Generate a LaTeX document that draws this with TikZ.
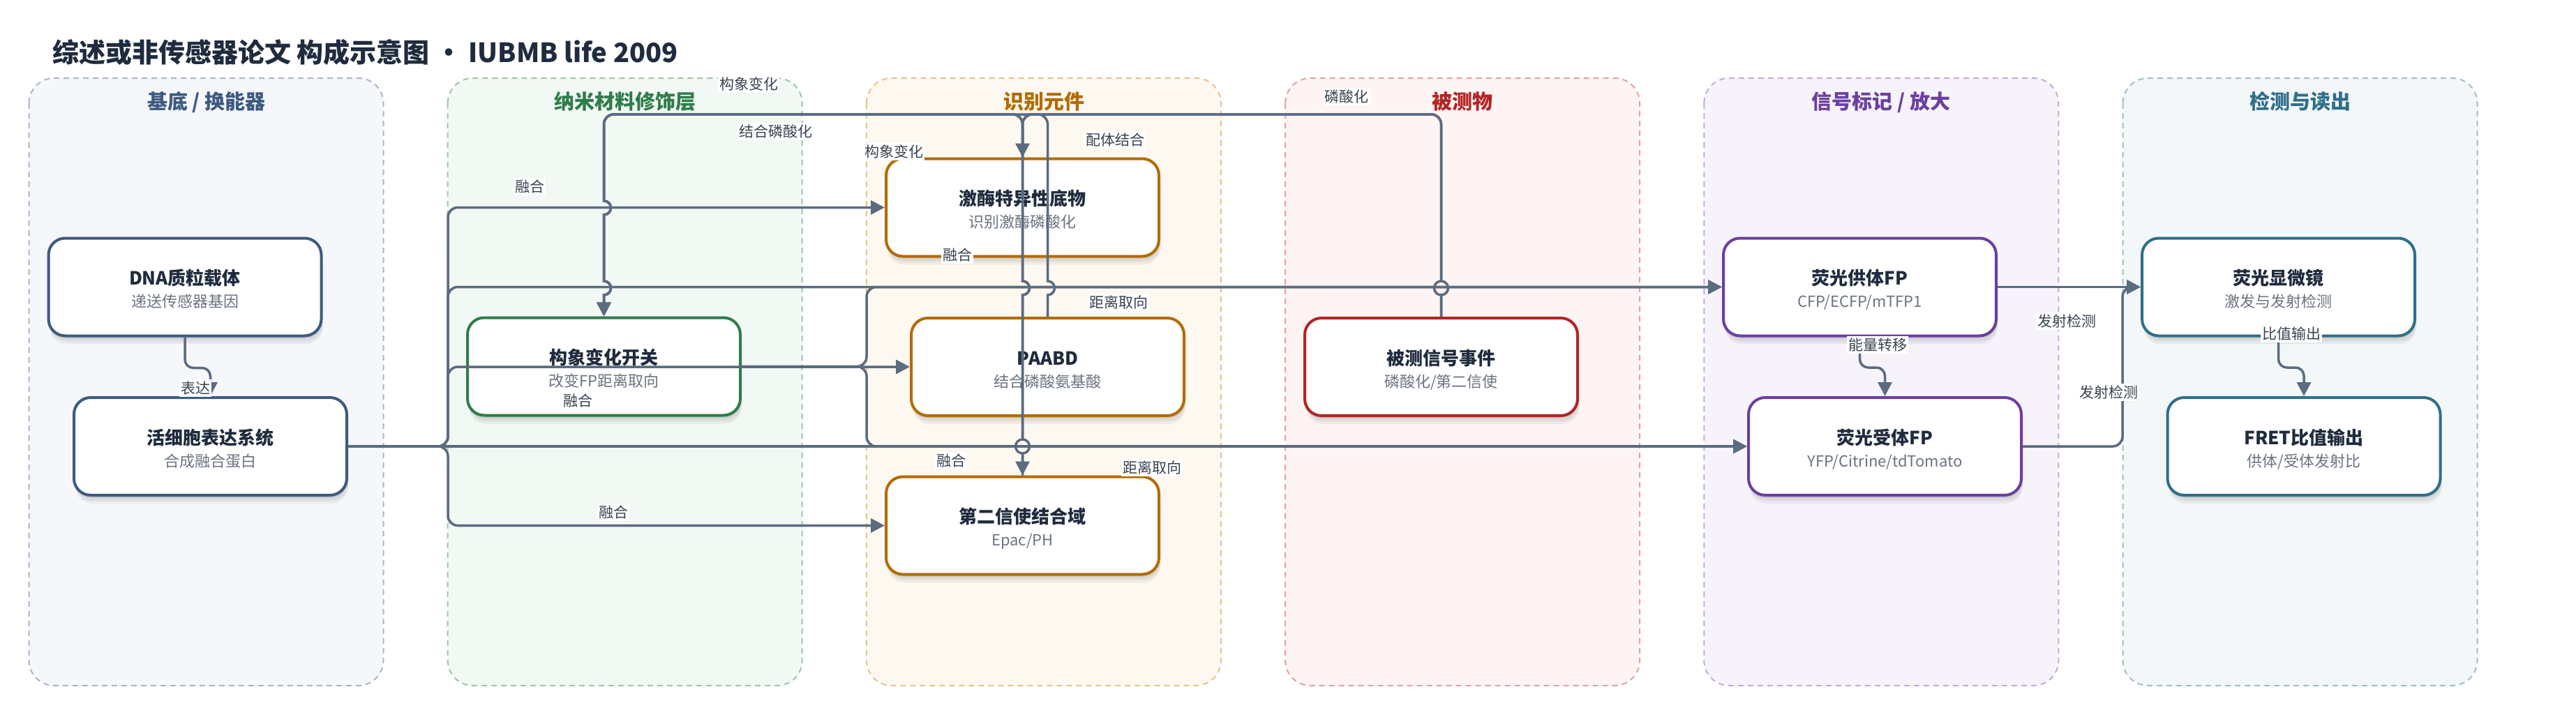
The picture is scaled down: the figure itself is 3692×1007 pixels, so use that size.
\documentclass[tikz,border=0pt]{standalone}
\usepackage{fontspec}
\setmainfont{Noto Sans CJK SC}
\usetikzlibrary{arrows.meta,calc,shadows}
\definecolor{titlec}{HTML}{1F2B3E}
\definecolor{subc}{HTML}{6B7380}
\definecolor{lblc}{HTML}{3A4350}
\definecolor{edgec}{HTML}{5B6B80}
\definecolor{cA}{HTML}{3E5A80}\definecolor{bA}{HTML}{A9B6C9}\definecolor{fA}{HTML}{F5F7FB}
\definecolor{cB}{HTML}{2E7D4B}\definecolor{bB}{HTML}{9CC8A8}\definecolor{fB}{HTML}{F2F8F3}
\definecolor{cC}{HTML}{B36B00}\definecolor{bC}{HTML}{E5C38E}\definecolor{fC}{HTML}{FDF8F0}
\definecolor{cD}{HTML}{B32424}\definecolor{bD}{HTML}{E3A2A2}\definecolor{fD}{HTML}{FDF4F3}
\definecolor{cE}{HTML}{6B3FA0}\definecolor{bE}{HTML}{C5AADC}\definecolor{fE}{HTML}{F7F3FB}
\definecolor{cF}{HTML}{2F6F8A}\definecolor{bF}{HTML}{9DBFCB}\definecolor{fF}{HTML}{F3F7F8}
\begin{document}
\begin{tikzpicture}[x=1pt,y=-1pt,
  lane/.style 2 args={draw=#1, fill=#2, line width=2pt, dash pattern=on 8pt off 6pt, rounded corners=36pt},
  lanettl/.style={font=\fontsize{29}{34}\selectfont\bfseries, inner sep=0pt, text height=25.5pt, text depth=3.5pt},
  box/.style={draw=#1, line width=4pt, rounded corners=24pt, fill=white, minimum width=391pt, minimum height=140pt, inner sep=0pt,
    drop shadow={shadow xshift=2pt, shadow yshift=-12pt, opacity=0.05, fill=black},
    drop shadow={shadow xshift=2pt, shadow yshift=-8pt, opacity=0.06, fill=black},
    drop shadow={shadow xshift=1pt, shadow yshift=-4pt, opacity=0.07, fill=black}},
  ttl/.style={font=\fontsize{26}{30}\selectfont\bfseries, text=titlec, inner sep=0pt, text height=22.9pt, text depth=3.1pt},
  sub/.style={font=\fontsize{22}{26}\selectfont, text=subc, inner sep=0pt, text height=19.4pt, text depth=2.6pt},
  lbl/.style={font=\fontsize{21}{25}\selectfont, text=lblc, fill=white, inner sep=2pt, text height=18.5pt, text depth=2.5pt},
  edge/.style={draw=edgec, line width=3.5pt, -{Triangle[length=20pt,width=20pt]}},
  plain/.style={draw=edgec, line width=3.5pt}
]
\fill[white] (0,0) rectangle (3692,1007);
\useasboundingbox (0,0) rectangle (3692,1007);

% lanes
\draw[lane={bA}{fA}] (41.5,112) rectangle (549.5,983);
\draw[lane={bB}{fB}] (641.7,112) rectangle (1149.7,983);
\draw[lane={bC}{fC}] (1241.9,112) rectangle (1749.9,983);
\draw[lane={bD}{fD}] (1842.1,112) rectangle (2350.1,983);
\draw[lane={bE}{fE}] (2442.3,112) rectangle (2950.3,983);
\draw[lane={bF}{fF}] (3042.5,112) rectangle (3550.5,983);

\node[lanettl,text=cA] (l1) at (296,145) {基底 / 换能器};
\node[lanettl,text=cB] (l2) at (896,145) {纳米材料修饰层};
\node[lanettl,text=cC] (l3) at (1496,145) {识别元件};
\node[lanettl,text=cD] (l4) at (2096,145) {被测物};
\node[lanettl,text=cE] (l5) at (2696,145) {信号标记 / 放大};
\node[lanettl,text=cF] (l6) at (3297,145) {检测与读出};

% title
\node[anchor=base west, inner sep=0pt, font=\fontsize{38}{44}\selectfont\bfseries, text=titlec] (title) at (75,89)
  {综述或非传感器论文 构成示意图 • IUBMB life 2009};

% nodes
\node[box=cA] (dna) at (265,411.5) {};
\node[box=cA] (live) at (301.5,640) {};
\node[box=cB] (sw) at (865.5,525.5) {};
\node[box=cC] (kin) at (1465.5,297.5) {};
\node[box=cC] (paabd) at (1501.5,526) {};
\node[box=cC] (sec) at (1465.5,753.5) {};
\node[box=cD] (obs) at (2065.5,526) {};
\node[box=cE] (donor) at (2665.5,411.5) {};
\node[box=cE] (acc) at (2701.5,640) {};
\node[box=cF] (mic) at (3265.5,411.5) {};
\node[box=cF] (fret) at (3302,640) {};

\foreach \n/\t/\s in {dna/DNA质粒载体/递送传感器基因, live/活细胞表达系统/合成融合蛋白,
  sw/构象变化开关/改变FP距离取向, kin/激酶特异性底物/识别激酶磷酸化, paabd/PAABD/结合磷酸氨基酸,
  sec/第二信使结合域/Epac\slash PH, obs/被测信号事件/磷酸化\slash 第二信使, donor/荧光供体FP/CFP\slash ECFP\slash mTFP1,
  acc/荧光受体FP/YFP\slash Citrine\slash tdTomato, mic/荧光显微镜/激发与发射检测, fret/FRET比值输出/供体\slash 受体发射比}{
  \node[ttl] (\n-t) at ($(\n.center)+(0,-12.5)$) {\t};
  \node[sub] (\n-s) at ($(\n.center)+(0,21)$) {\s};
}

% ---- edges ----
\draw[edge,rounded corners=12pt] (dna.south) -- ++(0,44) -| (live.north);

\draw[edge,rounded corners=14pt] (live.east) -- (642,640) |- (kin.west);
\draw[edge,rounded corners=14pt] (live.east) -- (642,640) |- (paabd.west);
\draw[edge,rounded corners=14pt] (live.east) -- (642,640) |- (sec.west);
\draw[edge,rounded corners=14pt] (live.east) -- (642,640) |- (donor.west);
\draw[edge] (live.east) -- (acc.west);

\draw[edge,rounded corners=14pt] (sw.east) -- (1242,525.5) |- (donor.west);
\draw[edge,rounded corners=14pt] (sw.east) -- (1242,525.5) |- (acc.west);

% top connectors with jumps
\draw[edge] (obs.north) -- (2065.5,423) arc[start angle=-90,end angle=90,radius=10pt] -- (2065.5,200)
  [rounded corners=14pt] -- (2065.5,164) -- (1465.5,164) -- (kin.north);
\draw[edge] (obs.north) -- (2065.5,423) arc[start angle=270,end angle=90,radius=10pt] -- (2065.5,200)
  [rounded corners=14pt] -- (2065.5,164) -- (1465.5,164) -- (1465.5,200)
  [sharp corners] -- (1465.5,403) arc[start angle=90,end angle=-90,radius=10pt]
  -- (1465.5,630) arc[start angle=90,end angle=-90,radius=10pt] -- (sec.north);
\draw[edge] (paabd.north) -- (1501.5,423) arc[start angle=-90,end angle=90,radius=10pt] -- (1501.5,200)
  [rounded corners=14pt] -- (1501.5,164) -- (865.5,164) -- (865.5,200)
  [sharp corners] -- (865.5,288) arc[start angle=90,end angle=-90,radius=10pt]
  -- (865.5,403) arc[start angle=90,end angle=-90,radius=10pt] -- (sw.north);
\draw[edge,rounded corners=14pt] (kin.north) -- (1465.5,164) -- (865.5,164) -- (865.5,200)
  [sharp corners] -- (865.5,288) arc[start angle=90,end angle=-90,radius=10pt]
  -- (865.5,403) arc[start angle=90,end angle=-90,radius=10pt] -- (sw.north);
\draw[edge] (sec.north) -- (1465.5,650) arc[start angle=270,end angle=90,radius=10pt]
  -- (1465.5,423) arc[start angle=-90,end angle=90,radius=10pt] -- (1465.5,200)
  [rounded corners=14pt] -- (1465.5,164) -- (865.5,164) -- (865.5,200)
  [sharp corners] -- (865.5,288) arc[start angle=90,end angle=-90,radius=10pt]
  -- (865.5,403) arc[start angle=90,end angle=-90,radius=10pt] -- (sw.north);

% right side
\draw[edge] (donor.east) -- (mic.west);
\draw[edge,rounded corners=14pt] (acc.east) -- (3042,640) |- (mic.west);
\draw[edge,rounded corners=12pt] (donor.south) -- ++(0,43.5) -| (acc.north);
\draw[edge,rounded corners=12pt] (mic.south) -- ++(0,43.5) -| (fret.north);

% labels
\node[lbl] (x1) at (280,556) {表达};
\node[lbl] (x2) at (759,267) {融合};
\node[lbl] (x3) at (828,574) {融合};
\node[lbl] (x4) at (879,734) {融合};
\node[lbl] (x5) at (1372,365) {融合};
\node[lbl] (x6) at (1363,660) {融合};
\node[lbl] (x7) at (1603,433) {距离取向};
\node[lbl] (x8) at (1651,670) {距离取向};
\node[lbl] (x9) at (1073,120) {构象变化};
\node[lbl] (x10) at (1112,188) {结合磷酸化};
\node[lbl] (x11) at (1281,217) {构象变化};
\node[lbl] (x12) at (1598,200) {配体结合};
\node[lbl] (x13) at (1930,138) {磷酸化};
\node[lbl] (x14) at (2691,494) {能量转移};
\node[lbl] (x15) at (2962,460) {发射检测};
\node[lbl] (x16) at (3022,562) {发射检测};
\node[lbl] (x17) at (3284,478) {比值输出};
\end{tikzpicture}
\end{document}
